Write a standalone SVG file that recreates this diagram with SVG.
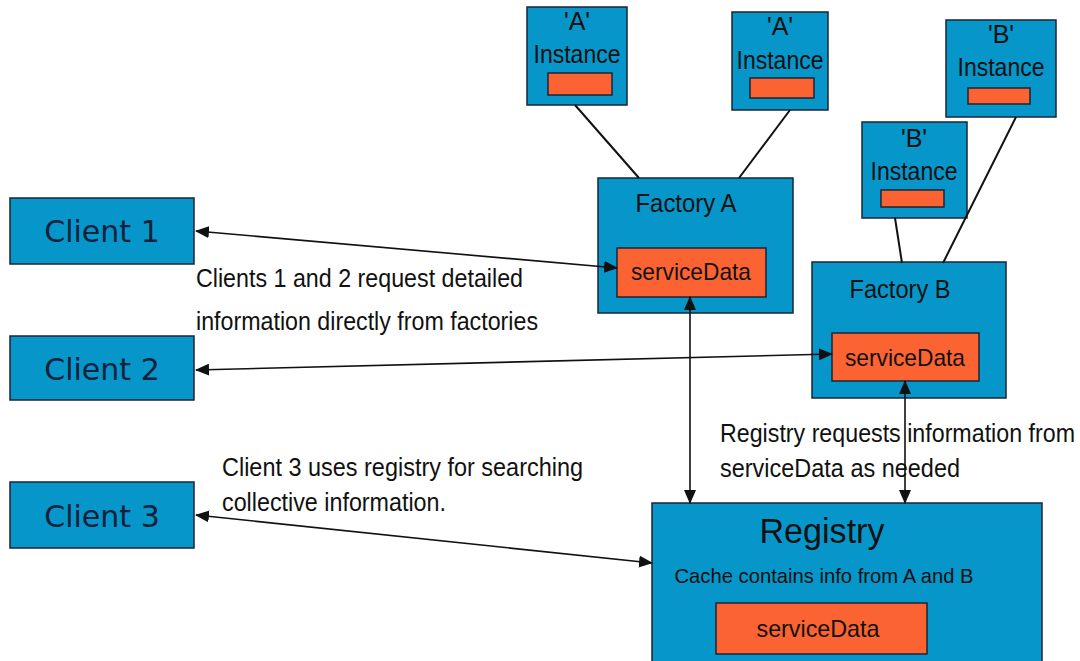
<svg xmlns="http://www.w3.org/2000/svg" width="1080" height="661" viewBox="0 0 1080 661">
<defs>
<style>
.box{fill:#0796c9;stroke:#1b2535;stroke-width:1.5}
.sd{fill:#fc6332;stroke:#1b2535;stroke-width:1.5}
.t{font-family:"Liberation Sans",Arial,sans-serif;fill:#111;text-anchor:middle}
.lbl{font-family:"Liberation Sans",Arial,sans-serif;fill:#111;font-size:25px}
.cl{font-family:"DejaVu Sans",Verdana,sans-serif;fill:#14213a;font-size:30px;text-anchor:middle}
.ln{stroke:#111;stroke-width:2;fill:none}
.ar{stroke:#111;stroke-width:1.6;fill:none;marker-start:url(#ah);marker-end:url(#ah)}
</style>
<marker id="ah" viewBox="0 0 14 12" refX="13" refY="6" markerWidth="14" markerHeight="12" markerUnits="userSpaceOnUse" orient="auto-start-reverse">
<path d="M0,0 L14,6 L0,12 Z" fill="#111"/>
</marker>
</defs>
<rect width="1080" height="661" fill="#fff"/>
<g id="instA1">
<rect class="box" x="527" y="7" width="100" height="98"/>
<text class="t" x="577" y="30" font-size="25">'A'</text>
<text class="t" x="577" y="63" font-size="25" textLength="87" lengthAdjust="spacingAndGlyphs">Instance</text>
<rect class="sd" x="548" y="73" width="64" height="22"/>
</g>
<g id="instA2">
<rect class="box" x="732" y="12" width="96" height="98"/>
<text class="t" x="780" y="35" font-size="25">'A'</text>
<text class="t" x="780" y="69" font-size="25" textLength="87" lengthAdjust="spacingAndGlyphs">Instance</text>
<rect class="sd" x="750" y="78" width="64" height="20"/>
</g>
<g id="instB1">
<rect class="box" x="946" y="20" width="110" height="97"/>
<text class="t" x="1001" y="43" font-size="25">'B'</text>
<text class="t" x="1001" y="76" font-size="25" textLength="87" lengthAdjust="spacingAndGlyphs">Instance</text>
<rect class="sd" x="968" y="88" width="62" height="16"/>
</g>
<g id="instB2">
<rect class="box" x="862" y="122" width="105" height="96"/>
<text class="t" x="914" y="147" font-size="25">'B'</text>
<text class="t" x="914" y="180" font-size="25" textLength="87" lengthAdjust="spacingAndGlyphs">Instance</text>
<rect class="sd" x="881" y="190" width="63" height="17"/>
</g>
<g id="factoryA">
<rect class="box" x="598" y="178" width="195" height="135"/>
<text class="t" x="686" y="212" font-size="26" textLength="101" lengthAdjust="spacingAndGlyphs">Factory A</text>
<rect class="sd" x="617" y="248" width="149" height="49"/>
<text class="t" x="691" y="280" font-size="24" textLength="120" lengthAdjust="spacingAndGlyphs">serviceData</text>
</g>
<g id="factoryB">
<rect class="box" x="812" y="262" width="194" height="136"/>
<text class="t" x="900" y="298" font-size="26" textLength="101" lengthAdjust="spacingAndGlyphs">Factory B</text>
<rect class="sd" x="832" y="333" width="147" height="48"/>
<text class="t" x="905" y="366" font-size="24" textLength="120" lengthAdjust="spacingAndGlyphs">serviceData</text>
</g>
<g id="client1">
<rect class="box" x="10" y="198" width="184" height="66"/>
<text class="cl" x="102" y="242">Client 1</text>
</g>
<g id="client2">
<rect class="box" x="10" y="336" width="184" height="64"/>
<text class="cl" x="102" y="380">Client 2</text>
</g>
<g id="client3">
<rect class="box" x="10" y="482" width="184" height="66"/>
<text class="cl" x="102" y="527">Client 3</text>
</g>
<g id="registry">
<rect class="box" x="652" y="503" width="390" height="170"/>
<text class="t" x="822" y="543" font-size="35" textLength="125" lengthAdjust="spacingAndGlyphs">Registry</text>
<text class="t" x="824" y="583" font-size="21" textLength="299" lengthAdjust="spacingAndGlyphs" fill="#1a2a48">Cache contains info from A and B</text>
<rect class="sd" x="716" y="603" width="211" height="51"/>
<text class="t" x="818" y="637" font-size="24" textLength="123" lengthAdjust="spacingAndGlyphs">serviceData</text>
</g>
<g id="labels">
<text class="lbl" x="196" y="287" textLength="327" lengthAdjust="spacingAndGlyphs">Clients 1 and 2 request detailed</text>
<text class="lbl" x="196" y="330" textLength="342" lengthAdjust="spacingAndGlyphs">information directly from factories</text>
<text class="lbl" x="222" y="476" textLength="361" lengthAdjust="spacingAndGlyphs">Client 3 uses registry for searching</text>
<text class="lbl" x="222" y="511" textLength="224" lengthAdjust="spacingAndGlyphs">collective information.</text>
<text class="lbl" x="720" y="442" textLength="355" lengthAdjust="spacingAndGlyphs">Registry requests information from</text>
<text class="lbl" x="720" y="477" textLength="240" lengthAdjust="spacingAndGlyphs">serviceData as needed</text>
</g>
<g id="connectors">
<line class="ln" x1="575" y1="105" x2="639" y2="178"/>
<line class="ln" x1="790" y1="110" x2="739" y2="178"/>
<line class="ln" x1="895" y1="218" x2="902" y2="263"/>
<line class="ln" x1="1016" y1="117" x2="943" y2="263"/>
<line class="ar" x1="196" y1="231" x2="617" y2="268"/>
<line class="ar" x1="196" y1="370" x2="832" y2="354"/>
<line class="ar" x1="196" y1="515" x2="652" y2="563"/>
<line class="ar" x1="690" y1="297" x2="690" y2="503"/>
<line class="ar" x1="905" y1="381" x2="905" y2="503"/>
</g>
</svg>
